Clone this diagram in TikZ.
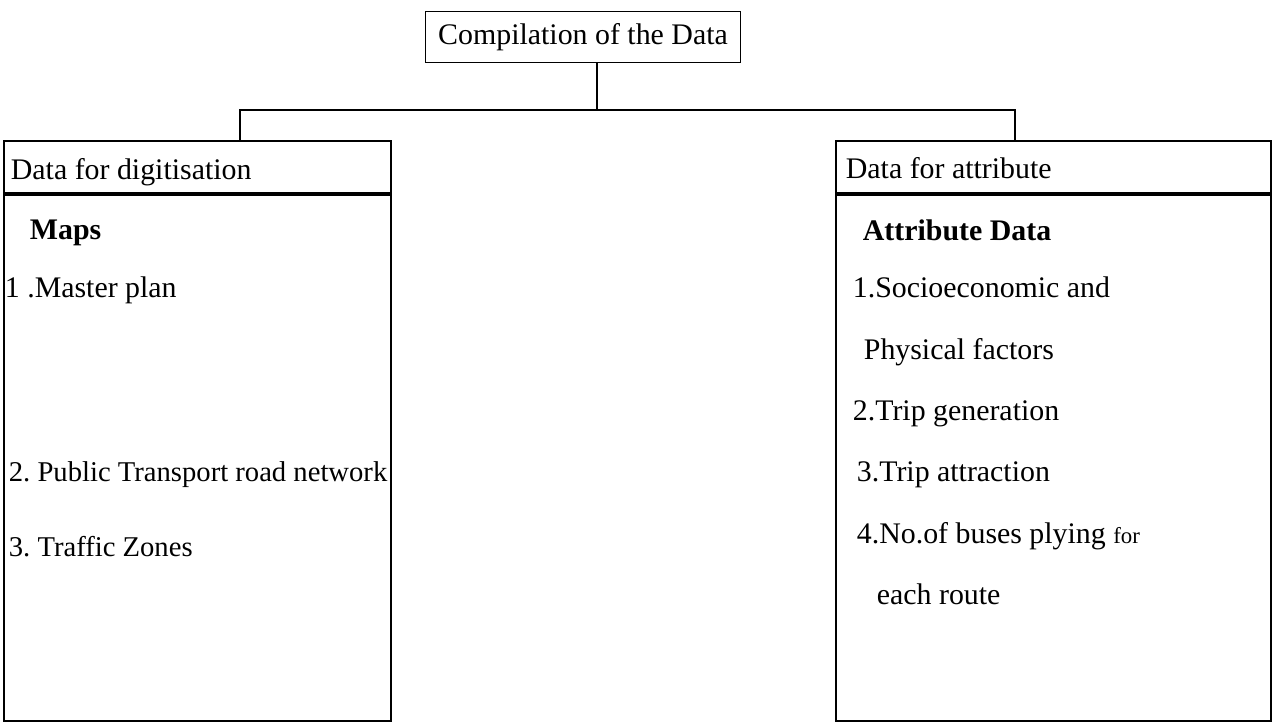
\documentclass[tikz,border=0pt]{standalone}
\usepackage{fontspec}
\setmainfont{Liberation Serif}
\usepackage{tikz}
\usetikzlibrary{positioning,calc}
\frenchspacing

\begin{document}
\begin{tikzpicture}[x=0.2mm, y=-0.2mm, line width=1pt,
    box/.style={draw, rectangle, inner sep=0pt, anchor=north west},
    item/.style={anchor=base west, inner sep=0pt, font=\fontsize{17}{20}\selectfont},
    head/.style={item, font=\fontsize{17}{20}\selectfont\bfseries}]
    \useasboundingbox (0,0) rectangle (1275,726);

    % top box
    \node[draw, rectangle, minimum width=63mm, minimum height=10.2mm,
          font=\fontsize{17}{20}\selectfont] (comp) at (583,37) {Compilation of the Data};

    % left column
    \node[box, minimum width=77.4mm, minimum height=10.4mm] (lhead) at (3,140) {};
    \node[box, minimum width=77.4mm, minimum height=105.2mm] (lbody) at (lhead.south west) {};
    \node[item] (dig) at (10,180) {Data for digitisation};
    \node[head] (maps) at (29,240) {Maps};
    \node[item] (m1) at (4,298) {1 .Master plan};
    \node[item, font=\fontsize{16.3}{19}\selectfont] (m2) at (8,481) {2. Public Transport road network};
    \node[item, font=\fontsize{16.3}{19}\selectfont] (m3) at (8,556) {3. Traffic Zones};

    % right column
    \node[box, minimum width=87mm, minimum height=10.4mm] (rhead) at (835,140) {};
    \node[box, minimum width=87mm, minimum height=105.2mm] (rbody) at (rhead.south west) {};
    \node[item] (att) at (845,179) {Data for attribute};
    \node[head] (adata) at (862,241) {Attribute Data};
    \node[item] (a1) at (852,298) {1.Socioeconomic and};
    \node[item] (a1b) at (863,360) {Physical factors};
    \node[item] (a2) at (852,421) {2.Trip generation};
    \node[item] (a3) at (856,481) {3.Trip attraction};
    \node[item] (a4) at (856,543) {4.No.of buses plying {\fontsize{13}{15}\selectfont for}};
    \node[item] (a4b) at (876,604) {each route};

    % connectors
    \coordinate (jt) at (597,110);
    \coordinate (jl) at (240,110);
    \coordinate (jr) at (1015,110);
    \draw (comp.south -| jt) -- (jt);
    \draw (jl |- lhead.north) -- (jl) -- (jr) -- (jr |- rhead.north);
\end{tikzpicture}
\end{document}
